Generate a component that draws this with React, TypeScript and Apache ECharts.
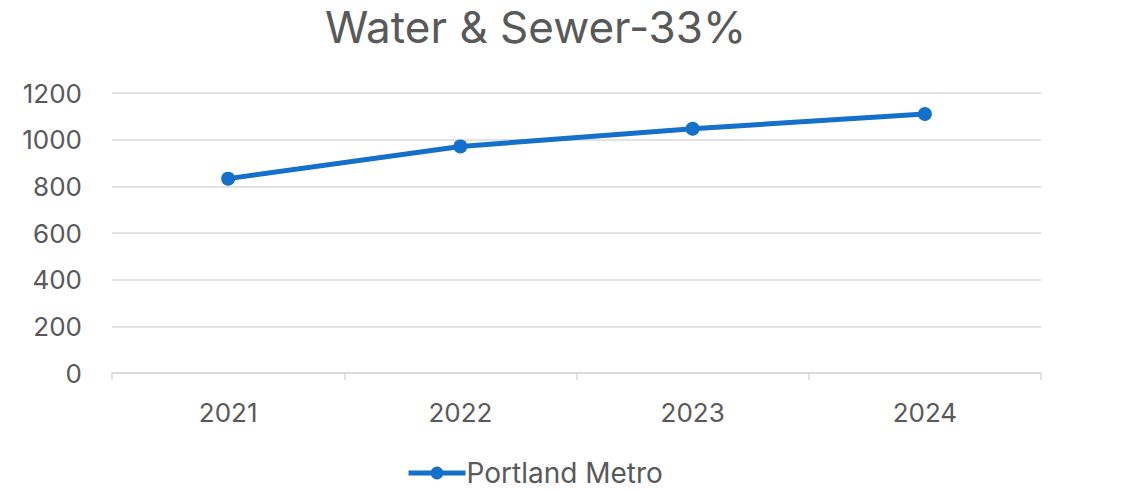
import React, { useEffect, useRef } from "react";
import * as echarts from "echarts";

const categories = ["2021", "2022", "2023", "2024"];
const portlandMetro = [833, 971, 1047, 1110];
const seriesName = "Portland Metro";
const titleText = "Water & Sewer-33%";

export default function App() {
  const ref = useRef<HTMLDivElement>(null);
  useEffect(() => {
    const chart = echarts.init(ref.current!, null, { renderer: "svg" });
    const font = "Inter, 'Open Sans', sans-serif";
    chart.setOption({
      animation: false,
      backgroundColor: "#ffffff",
      title: {
        text: titleText,
        left: 320,
        top: 0,
        textStyle: { color: "#595959", fontSize: 44, fontWeight: "normal", fontFamily: font },
      },
      legend: {
        top: 456,
        left: 404,
        padding: 2,
        itemWidth: 57,
        itemHeight: 16,
        itemGap: 10,
        lineStyle: { width: 5 },
        textStyle: {
          color: "#595959",
          fontSize: 28,
          lineHeight: 30,
          fontFamily: font,
          padding: [0, 0, 0, -4],
        },
        data: [seriesName],
      },
      grid: { left: 112, right: 93, top: 93, bottom: 118, containLabel: false },
      xAxis: {
        type: "category",
        data: categories,
        boundaryGap: true,
        axisLine: { lineStyle: { color: "#d9d9d9", width: 1.5 } },
        axisTick: { show: true, length: 7, lineStyle: { color: "#d9d9d9", width: 1.5 } },
        axisLabel: { color: "#595959", fontSize: 26, fontFamily: font, margin: 26 },
      },
      yAxis: {
        type: "value",
        min: 0,
        max: 1200,
        interval: 200,
        axisLine: { show: false },
        axisTick: { show: false },
        splitLine: { lineStyle: { color: "#d9d9d9", width: 1.5 } },
        axisLabel: {
          color: "#595959",
          fontSize: 26,
          fontFamily: font,
          margin: 30,
          formatter: (v: number) => String(v),
        },
      },
      series: [
        {
          name: seriesName,
          type: "line",
          data: portlandMetro,
          symbol: "circle",
          symbolSize: 14,
          lineStyle: { color: "#1470C8", width: 5 },
          itemStyle: { color: "#1470C8" },
        },
      ],
    });
    return () => chart.dispose();
  }, []);
  return (
    <div
      ref={ref}
      style={{ position: "absolute", left: 0, top: 0, width: 1134, height: 491 }}
    />
  );
}
